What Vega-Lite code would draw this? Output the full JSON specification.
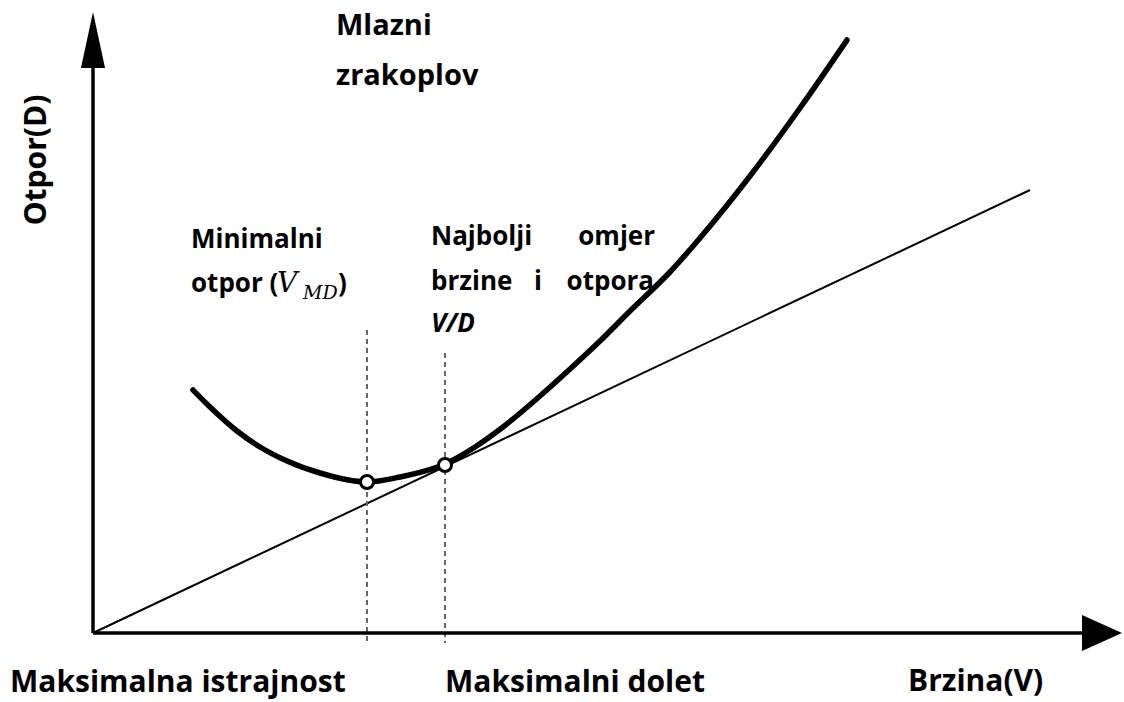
{
  "$schema": "https://vega.github.io/schema/vega-lite/v6.json",
  "width": 1124,
  "height": 702,
  "padding": 0,
  "autosize": {"type": "fit", "contains": "padding"},
  "background": "white",
  "config": {"view": {"stroke": null}},
  "datasets": {
    "curve": [
      {"V": 100, "D": 243}, {"V": 117, "D": 226}, {"V": 144, "D": 202}, {"V": 167, "D": 186},
      {"V": 194, "D": 172}, {"V": 227, "D": 160}, {"V": 274, "D": 151}, {"V": 307, "D": 156},
      {"V": 352, "D": 169}, {"V": 382, "D": 186}, {"V": 410, "D": 206}, {"V": 447, "D": 237},
      {"V": 477, "D": 264}, {"V": 507, "D": 292}, {"V": 537, "D": 322}, {"V": 577, "D": 361},
      {"V": 607, "D": 395}, {"V": 657, "D": 457}, {"V": 707, "D": 525}, {"V": 754, "D": 593}
    ],
    "tangent": [{"V": 0, "D": 0}, {"V": 937, "D": 443}],
    "axes": [
      {"V": 0, "D": 0, "V2": 990, "D2": 0},
      {"V": 0, "D": 0, "V2": 0, "D2": 570}
    ],
    "guides": [
      {"V": 274, "top": 303, "bottom": -10},
      {"V": 352, "top": 280, "bottom": -10}
    ],
    "marks": [{"V": 274, "D": 151}, {"V": 352, "D": 168}],
    "arrowUp": [{"V": 0, "D": 593}],
    "arrowRight": [{"V": 1009, "D": 0}],
    "titleText": [
      {"V": 243, "D": 598, "label": "Mlazni"},
      {"V": 243, "D": 548, "label": "zrakoplov"}
    ],
    "leftText": [
      {"V": 98, "D": 385, "label": "Minimalni"},
      {"V": 98, "D": 341, "label": "otpor ("},
      {"V": 245, "D": 341, "label": ")"},
      {"V": 338, "D": 388, "label": "Najbolji"},
      {"V": 338, "D": 343, "label": "brzine"}
    ],
    "rightText": [
      {"V": 562, "D": 388, "label": "omjer"},
      {"V": 561, "D": 343, "label": "otpora"}
    ],
    "centerText": [{"V": 445, "D": 343, "label": "i"}],
    "italicText": [{"V": 338, "D": 301, "label": "V/D"}],
    "mathV": [{"V": 184, "D": 341, "label": "V"}],
    "mathSub": [{"V": 210, "D": 334, "label": "MD"}],
    "bottomText": [
      {"V": -83, "D": -59, "label": "Maksimalna istrajnost"},
      {"V": 352, "D": -59, "label": "Maksimalni dolet"},
      {"V": 815, "D": -58, "label": "Brzina(V)"}
    ],
    "yTitle": [{"V": -47, "D": 473, "label": "Otpor(D)"}]
  },
  "layer": [
    {
      "data": {"name": "tangent"},
      "mark": {"type": "line", "color": "black", "strokeWidth": 2},
      "encoding": {
        "x": {"field": "V", "type": "quantitative", "scale": {"domain": [-93, 1031], "nice": false, "zero": false}, "axis": null},
        "y": {"field": "D", "type": "quantitative", "scale": {"domain": [-69, 633], "nice": false, "zero": false}, "axis": null}
      }
    },
    {
      "data": {"name": "curve"},
      "mark": {"type": "line", "color": "black", "strokeWidth": 5.5, "interpolate": "monotone", "strokeCap": "round"},
      "encoding": {
        "x": {"field": "V", "type": "quantitative", "scale": {"domain": [-93, 1031], "nice": false, "zero": false}, "axis": null},
        "y": {"field": "D", "type": "quantitative", "scale": {"domain": [-69, 633], "nice": false, "zero": false}, "axis": null}
      }
    },
    {
      "data": {"name": "guides"},
      "mark": {"type": "rule", "color": "#666666", "strokeWidth": 2, "strokeDash": [5, 4]},
      "encoding": {
        "x": {"field": "V", "type": "quantitative", "scale": {"domain": [-93, 1031], "nice": false, "zero": false}, "axis": null},
        "y": {"field": "top", "type": "quantitative", "scale": {"domain": [-69, 633], "nice": false, "zero": false}, "axis": null},
        "y2": {"field": "bottom"}
      }
    },
    {
      "data": {"name": "axes"},
      "mark": {"type": "rule", "color": "black", "strokeWidth": 3.5},
      "encoding": {
        "x": {"field": "V", "type": "quantitative", "scale": {"domain": [-93, 1031], "nice": false, "zero": false}, "axis": null},
        "y": {"field": "D", "type": "quantitative", "scale": {"domain": [-69, 633], "nice": false, "zero": false}, "axis": null},
        "x2": {"field": "V2"},
        "y2": {"field": "D2"}
      }
    },
    {
      "data": {"name": "arrowUp"},
      "mark": {"type": "point", "shape": "M0,-1L0.43,1L-0.43,1Z", "size": 3136, "filled": true, "color": "black", "opacity": 1, "strokeWidth": 0},
      "encoding": {
        "x": {"field": "V", "type": "quantitative", "scale": {"domain": [-93, 1031], "nice": false, "zero": false}, "axis": null},
        "y": {"field": "D", "type": "quantitative", "scale": {"domain": [-69, 633], "nice": false, "zero": false}, "axis": null}
      }
    },
    {
      "data": {"name": "arrowRight"},
      "mark": {"type": "point", "shape": "M1,0L-1,-0.9L-1,0.9Z", "size": 1600, "filled": true, "color": "black", "opacity": 1, "strokeWidth": 0},
      "encoding": {
        "x": {"field": "V", "type": "quantitative", "scale": {"domain": [-93, 1031], "nice": false, "zero": false}, "axis": null},
        "y": {"field": "D", "type": "quantitative", "scale": {"domain": [-69, 633], "nice": false, "zero": false}, "axis": null}
      }
    },
    {
      "data": {"name": "marks"},
      "mark": {"type": "point", "shape": "circle", "size": 170, "filled": false, "fill": "white", "fillOpacity": 1, "stroke": "black", "strokeWidth": 3, "opacity": 1},
      "encoding": {
        "x": {"field": "V", "type": "quantitative", "scale": {"domain": [-93, 1031], "nice": false, "zero": false}, "axis": null},
        "y": {"field": "D", "type": "quantitative", "scale": {"domain": [-69, 633], "nice": false, "zero": false}, "axis": null}
      }
    },
    {
      "data": {"name": "titleText"},
      "mark": {"type": "text", "align": "left", "baseline": "alphabetic", "font": "Open Sans", "fontWeight": "bold", "fontSize": 29, "color": "black"},
      "encoding": {
        "x": {"field": "V", "type": "quantitative", "scale": {"domain": [-93, 1031], "nice": false, "zero": false}, "axis": null},
        "y": {"field": "D", "type": "quantitative", "scale": {"domain": [-69, 633], "nice": false, "zero": false}, "axis": null},
        "text": {"field": "label"}
      }
    },
    {
      "data": {"name": "leftText"},
      "mark": {"type": "text", "align": "left", "baseline": "alphabetic", "font": "Open Sans", "fontWeight": "bold", "fontSize": 26, "color": "black"},
      "encoding": {
        "x": {"field": "V", "type": "quantitative", "scale": {"domain": [-93, 1031], "nice": false, "zero": false}, "axis": null},
        "y": {"field": "D", "type": "quantitative", "scale": {"domain": [-69, 633], "nice": false, "zero": false}, "axis": null},
        "text": {"field": "label"}
      }
    },
    {
      "data": {"name": "rightText"},
      "mark": {"type": "text", "align": "right", "baseline": "alphabetic", "font": "Open Sans", "fontWeight": "bold", "fontSize": 26, "color": "black"},
      "encoding": {
        "x": {"field": "V", "type": "quantitative", "scale": {"domain": [-93, 1031], "nice": false, "zero": false}, "axis": null},
        "y": {"field": "D", "type": "quantitative", "scale": {"domain": [-69, 633], "nice": false, "zero": false}, "axis": null},
        "text": {"field": "label"}
      }
    },
    {
      "data": {"name": "centerText"},
      "mark": {"type": "text", "align": "center", "baseline": "alphabetic", "font": "Open Sans", "fontWeight": "bold", "fontSize": 26, "color": "black"},
      "encoding": {
        "x": {"field": "V", "type": "quantitative", "scale": {"domain": [-93, 1031], "nice": false, "zero": false}, "axis": null},
        "y": {"field": "D", "type": "quantitative", "scale": {"domain": [-69, 633], "nice": false, "zero": false}, "axis": null},
        "text": {"field": "label"}
      }
    },
    {
      "data": {"name": "italicText"},
      "mark": {"type": "text", "align": "left", "baseline": "alphabetic", "font": "Open Sans", "fontWeight": "bold", "fontStyle": "italic", "fontSize": 26, "color": "black"},
      "encoding": {
        "x": {"field": "V", "type": "quantitative", "scale": {"domain": [-93, 1031], "nice": false, "zero": false}, "axis": null},
        "y": {"field": "D", "type": "quantitative", "scale": {"domain": [-69, 633], "nice": false, "zero": false}, "axis": null},
        "text": {"field": "label"}
      }
    },
    {
      "data": {"name": "mathV"},
      "mark": {"type": "text", "align": "left", "baseline": "alphabetic", "font": "DejaVu Serif", "fontStyle": "italic", "fontSize": 28, "color": "black"},
      "encoding": {
        "x": {"field": "V", "type": "quantitative", "scale": {"domain": [-93, 1031], "nice": false, "zero": false}, "axis": null},
        "y": {"field": "D", "type": "quantitative", "scale": {"domain": [-69, 633], "nice": false, "zero": false}, "axis": null},
        "text": {"field": "label"}
      }
    },
    {
      "data": {"name": "mathSub"},
      "mark": {"type": "text", "align": "left", "baseline": "alphabetic", "font": "DejaVu Serif", "fontStyle": "italic", "fontSize": 19, "color": "black"},
      "encoding": {
        "x": {"field": "V", "type": "quantitative", "scale": {"domain": [-93, 1031], "nice": false, "zero": false}, "axis": null},
        "y": {"field": "D", "type": "quantitative", "scale": {"domain": [-69, 633], "nice": false, "zero": false}, "axis": null},
        "text": {"field": "label"}
      }
    },
    {
      "data": {"name": "bottomText"},
      "mark": {"type": "text", "align": "left", "baseline": "alphabetic", "font": "Open Sans", "fontWeight": "bold", "fontSize": 30, "color": "black"},
      "encoding": {
        "x": {"field": "V", "type": "quantitative", "scale": {"domain": [-93, 1031], "nice": false, "zero": false}, "axis": null},
        "y": {"field": "D", "type": "quantitative", "scale": {"domain": [-69, 633], "nice": false, "zero": false}, "axis": null},
        "text": {"field": "label"}
      }
    },
    {
      "data": {"name": "yTitle"},
      "mark": {"type": "text", "align": "center", "baseline": "alphabetic", "angle": 270, "font": "Open Sans", "fontWeight": "bold", "fontSize": 30, "color": "black"},
      "encoding": {
        "x": {"field": "V", "type": "quantitative", "scale": {"domain": [-93, 1031], "nice": false, "zero": false}, "axis": null},
        "y": {"field": "D", "type": "quantitative", "scale": {"domain": [-69, 633], "nice": false, "zero": false}, "axis": null},
        "text": {"field": "label"}
      }
    }
  ]
}
